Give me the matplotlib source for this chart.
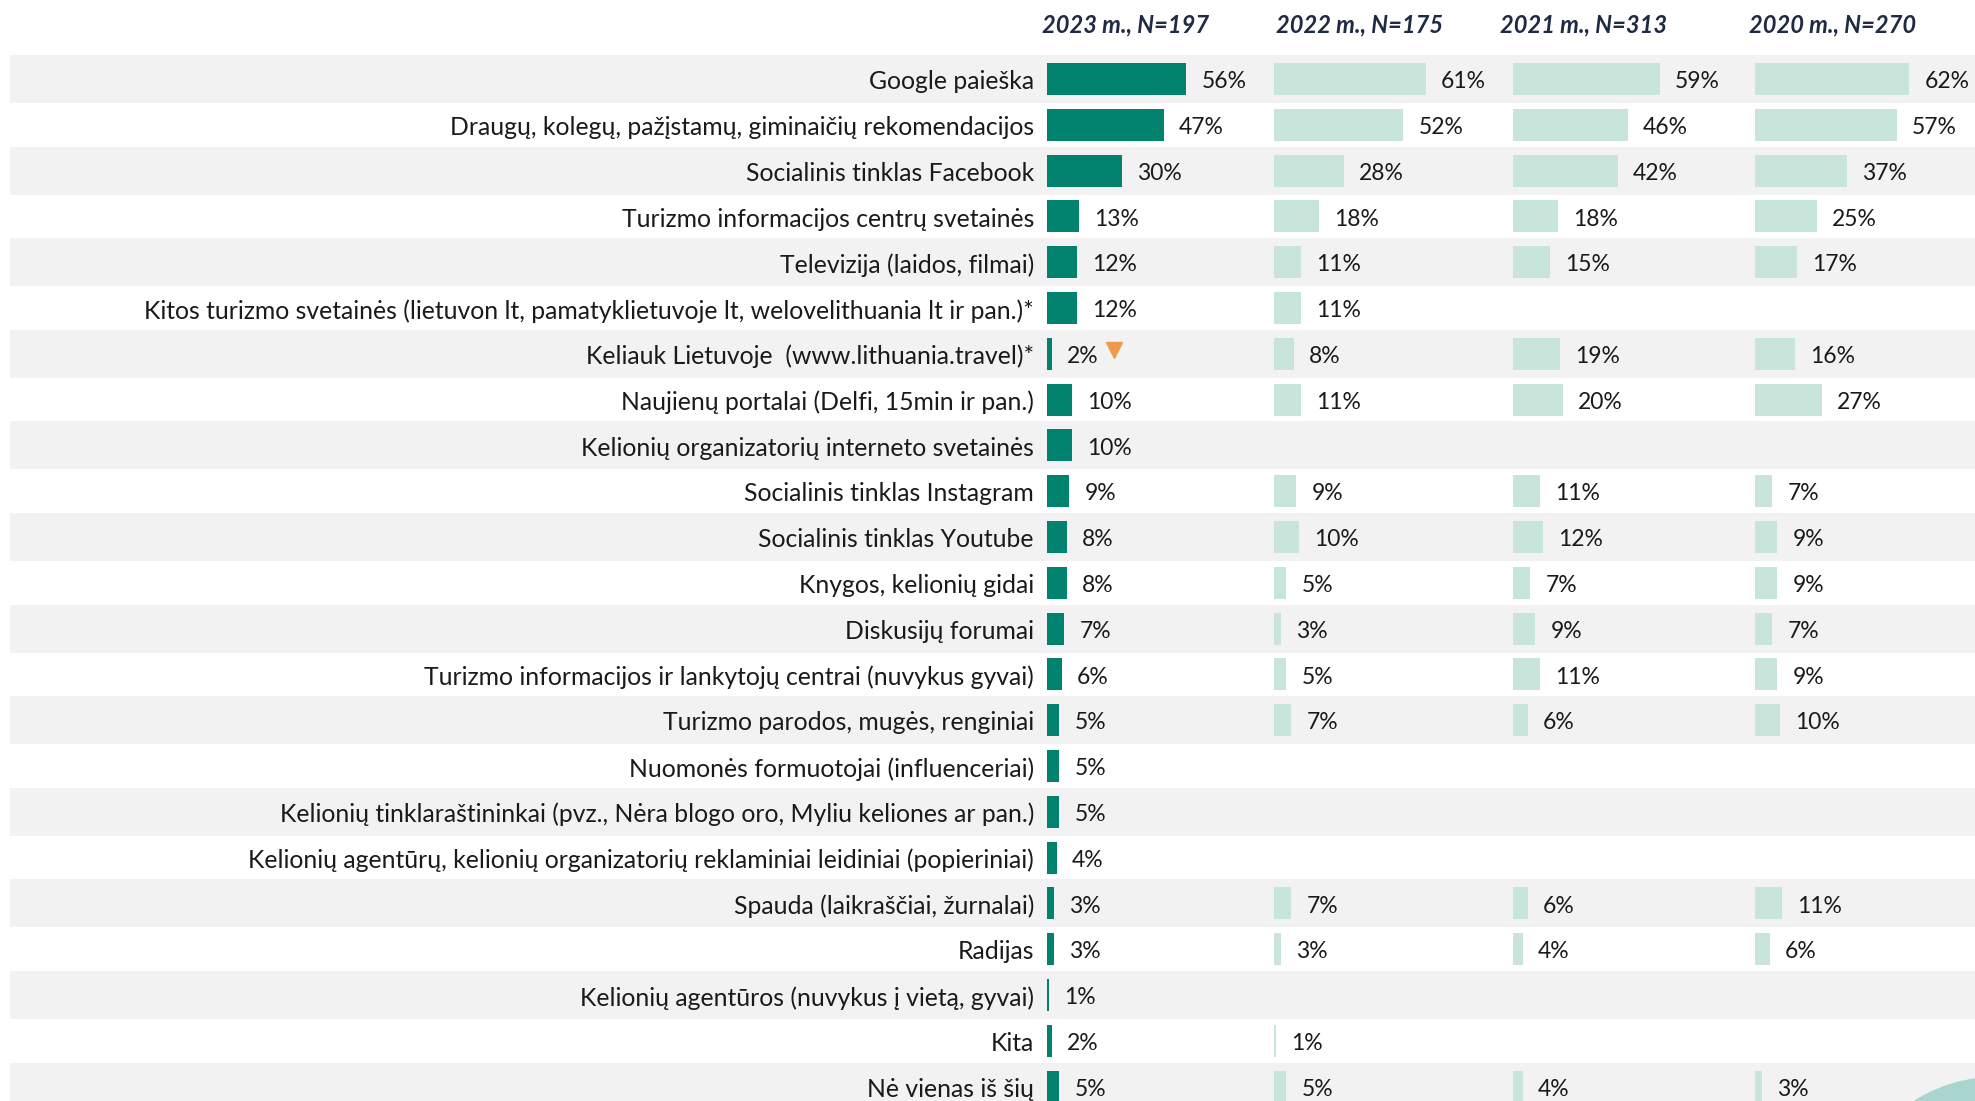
import matplotlib
matplotlib.use('Agg')
import matplotlib.pyplot as plt
from matplotlib.patches import Rectangle, Ellipse

# data (None = no value that year)
labels = [
    'Google paieška',
    'Draugų, kolegų, pažįstamų, giminaičių rekomendacijos',
    'Socialinis tinklas Facebook',
    'Turizmo informacijos centrų svetainės',
    'Televizija (laidos, filmai)',
    'Kitos turizmo svetainės (lietuvon lt, pamatyklietuvoje lt, welovelithuania lt ir pan.)*',
    'Keliauk Lietuvoje  (www.lithuania.travel)*',
    'Naujienų portalai (Delfi, 15min ir pan.)',
    'Kelionių organizatorių interneto svetainės',
    'Socialinis tinklas Instagram',
    'Socialinis tinklas Youtube',
    'Knygos, kelionių gidai',
    'Diskusijų forumai',
    'Turizmo informacijos ir lankytojų centrai (nuvykus gyvai)',
    'Turizmo parodos, mugės, renginiai',
    'Nuomonės formuotojai (influenceriai)',
    'Kelionių tinklaraštininkai (pvz., Nėra blogo oro, Myliu keliones ar pan.)',
    'Kelionių agentūrų, kelionių organizatorių reklaminiai leidiniai (popieriniai)',
    'Spauda (laikraščiai, žurnalai)',
    'Radijas',
    'Kelionių agentūros (nuvykus į vietą, gyvai)',
    'Kita',
    'Nė vienas iš šių',
]
y2023 = [56, 47, 30, 13, 12, 12, 2, 10, 10, 9, 8, 8, 7, 6, 5, 5, 5, 4, 3, 3, 1, 2, 5]
y2022 = [61, 52, 28, 18, 11, 11, 8, 11, None, 9, 10, 5, 3, 5, 7, None, None, None, 7, 3, None, 1, 5]
y2021 = [59, 46, 42, 18, 15, None, 19, 20, None, 11, 12, 7, 9, 11, 6, None, None, None, 6, 4, None, None, 4]
y2020 = [62, 57, 37, 25, 17, None, 16, 27, None, 7, 9, 9, 7, 9, 10, None, None, None, 11, 6, None, None, 3]
headers = ['2023 m., N=197', '2022 m., N=175', '2021 m., N=313', '2020 m., N=270']
drop_row = 6  # row marked with a down arrow

TEAL = '#00826F'
LIGHT = '#C8E5DB'
BAND = '#F2F2F2'
ORANGE = '#EE9A4D'
TXT = '#1a1a1a'
HEAD = '#1F2A44'

plt.rcParams['font.family'] = ['Lato', 'DejaVu Sans']

fig = plt.figure(figsize=(19.75, 11.01), dpi=100)
ax = fig.add_axes([0, 0, 1, 1])
row_h = 45.8
first = 79
ax.set_xlim(0, 1975)
ax.set_ylim((1101 - first) / row_h, -first / row_h)
ax.axis('off')

scale = 2.49  # pixels per percent
starts = [1047, 1274, 1513, 1755]
series = [y2023, y2022, y2021, y2020]
colors = [TEAL, LIGHT, LIGHT, LIGHT]
head_x = [1126, 1360, 1584, 1833]
txt_dy = 0.06

n = len(labels)
for i in range(n):
    if i % 2 == 0:
        ax.add_patch(Rectangle((10, i - 0.525), 1965, 1.05, color=BAND, lw=0, zorder=0))
    ax.text(1034, i + txt_dy, labels[i], ha='right', va='center', fontsize=17.8, color=TXT)

for vals, x0, col in zip(series, starts, colors):
    for i, v in enumerate(vals):
        if v is None:
            continue
        ax.barh(i, v * scale, left=x0, height=0.7, color=col, zorder=2)
        ax.text(x0 + v * scale + 15, i + txt_dy, f'{v}%', ha='left', va='center',
                fontsize=16.5, color=TXT, zorder=3)

for hx, h in zip(head_x, headers):
    ax.text(hx, -1.18, h, ha='center', va='center', fontsize=17,
            fontweight='bold', fontstyle='italic', color=HEAD)

# decline marker
ax.plot(starts[0] + y2023[drop_row] * scale + 62, drop_row - 0.08, marker='v',
        markersize=12, color=ORANGE, zorder=4)

# decorative circle in the corner
ax.add_patch(Ellipse((1995, (1227 - first) / row_h), 300, 300 / row_h,
                     color='#A8D5CE', lw=0, zorder=1))

fig.savefig('out.png', dpi=100)
